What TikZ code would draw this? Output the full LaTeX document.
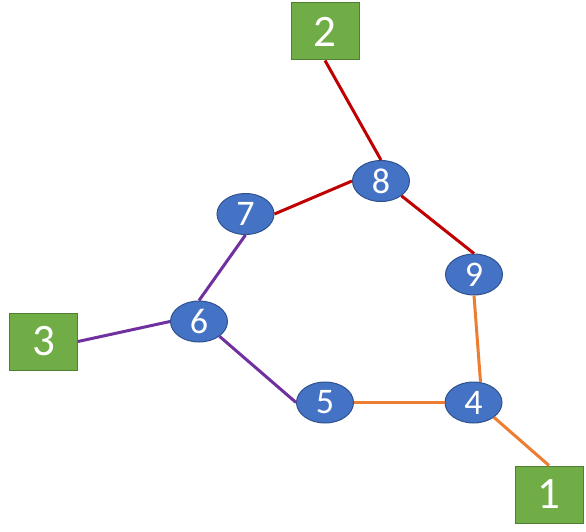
\documentclass[tikz,border=0pt]{standalone}
\usepackage{fontspec}
\setmainfont{Carlito}
\usetikzlibrary{shapes.geometric}
\definecolor{NodeBlue}{RGB}{68,114,196}
\definecolor{NodeBlueDark}{RGB}{47,82,143}
\definecolor{TermGreen}{RGB}{112,173,71}
\definecolor{TermGreenDark}{RGB}{80,126,50}
\definecolor{EdgeRed}{RGB}{192,0,0}
\definecolor{EdgeOrange}{RGB}{237,125,49}
\definecolor{EdgePurple}{RGB}{112,48,160}

\begin{document}
\begin{tikzpicture}[x=1pt, y=-1pt,
    vertex/.style={ellipse, draw=NodeBlueDark, fill=NodeBlue, line width=1pt, minimum width=57pt, minimum height=41pt, inner sep=0pt, text=white, font=\fontsize{36}{38}\selectfont},
    terminal/.style={rectangle, draw=TermGreenDark, fill=TermGreen, line width=1pt, minimum width=68pt, minimum height=57pt, inner sep=0pt, text=white, font=\fontsize{45}{48}\selectfont},
    edge/.style={line width=3pt}]
    \useasboundingbox (0,0) rectangle (586,532);

    \node[vertex] (v8) at (381,181) {8};
    \node[vertex] (v7) at (245.5,214) {7};
    \node[vertex] (v9) at (474,274.5) {9};
    \node[vertex] (v6) at (199,321.5) {6};
    \node[vertex] (v5) at (325,402.5) {5};
    \node[vertex] (v4) at (473.5,402.5) {4};

    % Terminals
    \node[terminal] (t2) at (325,31.5) {2};
    \node[terminal] (t3) at (43.5,341.5) {3};
    \node[terminal] (t1) at (549,494.5) {1};

    \draw[edge, EdgeRed] (t2.south) -- (v8.north);
    \draw[edge, EdgeRed] (v8.west) -- (v7.east);
    \draw[edge, EdgeRed] (v8.south east) -- (v9.north);
    \draw[edge, EdgePurple] (v7.south) -- (v6.north);
    \draw[edge, EdgePurple] (t3.east) -- (v6.west);
    \draw[edge, EdgePurple] (v6.south east) -- (v5.west);
    \draw[edge, EdgeOrange] (v5.east) -- (v4.west);
    \draw[edge, EdgeOrange] (v9.south) -- (v4.71);
    \draw[edge, EdgeOrange] (v4.south east) -- (t1.north);
\end{tikzpicture}
\end{document}
